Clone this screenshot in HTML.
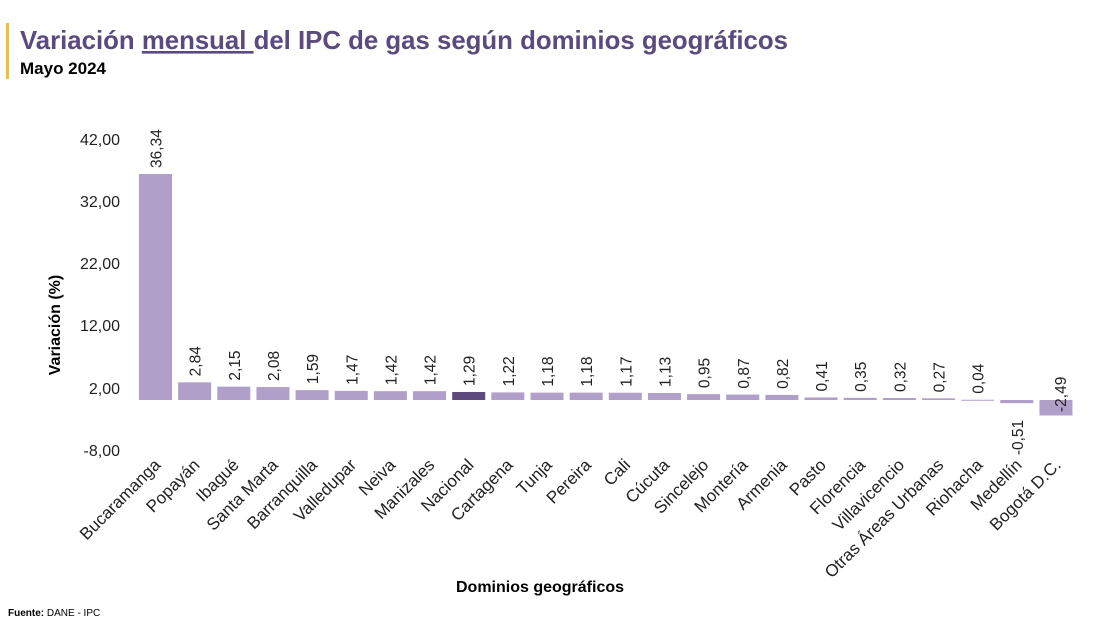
<!DOCTYPE html>
<html><head><meta charset="utf-8"><style>
body{margin:0;background:#fff;width:1103px;height:629px;overflow:hidden;font-family:"Liberation Sans",sans-serif}
</style></head><body>
<svg width="1103" height="629" xmlns="http://www.w3.org/2000/svg" font-family="Liberation Sans, sans-serif">
<rect x="6" y="23" width="3" height="56" fill="#f2c12e"/>
<text x="20" y="49" font-size="26" font-weight="bold" fill="#5b4a7d" textLength="768" lengthAdjust="spacingAndGlyphs">Variación <tspan text-decoration="underline">mensual </tspan>del IPC de gas según dominios geográficos</text>
<text x="20" y="74" font-size="17" font-weight="bold" fill="#000">Mayo 2024</text>
<g font-size="16" fill="#222" text-anchor="end">
<text x="120" y="145">42,00</text><text x="120" y="207">32,00</text><text x="120" y="269">22,00</text>
<text x="120" y="331">12,00</text><text x="120" y="394">2,00</text><text x="120" y="456">-8,00</text>
</g>
<text transform="translate(60,325) rotate(-90)" font-size="16" font-weight="bold" text-anchor="middle">Variación (%)</text>
<text x="540" y="592" font-size="16" font-weight="bold" text-anchor="middle">Dominios geográficos</text>
<text x="8" y="616" font-size="10"><tspan font-weight="bold">Fuente:</tspan> DANE - IPC</text>
<g id="bars"></g>
</svg>
<script>
var d=[["Bucaramanga",36.34],["Popayán",2.84],["Ibagué",2.15],["Santa Marta",2.08],["Barranquilla",1.59],["Valledupar",1.47],["Neiva",1.42],["Manizales",1.42],["Nacional",1.29],["Cartagena",1.22],["Tunja",1.18],["Pereira",1.18],["Cali",1.17],["Cúcuta",1.13],["Sincelejo",0.95],["Montería",0.87],["Armenia",0.82],["Pasto",0.41],["Florencia",0.35],["Villavicencio",0.32],["Otras Áreas Urbanas",0.27],["Riohacha",0.04],["Medellín",-0.51],["Bogotá D.C.",-2.49]];
var g=document.getElementById('bars'),s='',z=400,k=6.22;
d.forEach(function(e,i){var c=155.5+i*39.15,v=e[1],h=Math.abs(v)*k,y=v>=0?z-h:z;
s+='<rect x="'+(c-16.5)+'" y="'+y+'" width="33" height="'+Math.max(h,1)+'" fill="'+(e[0]=='Nacional'?'#5e4a7e':'#b09fc8')+'"/>';
var lab=v.toFixed(2).replace('.',',');
var tx,ty;
if(v>=0){tx=c+6;ty=z-h-6;}
else if(v>-1){tx=c+6;ty=z+h+52;}
else{tx=c+10;ty=z+12;}
s+='<text transform="translate('+tx+','+ty+') rotate(-90)" font-size="15.5" fill="#222">'+lab+'</text>';
s+='<text transform="translate('+(c+6)+',466) rotate(-45)" font-size="17" fill="#222" text-anchor="end">'+e[0]+'</text>';});
g.innerHTML=s;
</script>
</body></html>
